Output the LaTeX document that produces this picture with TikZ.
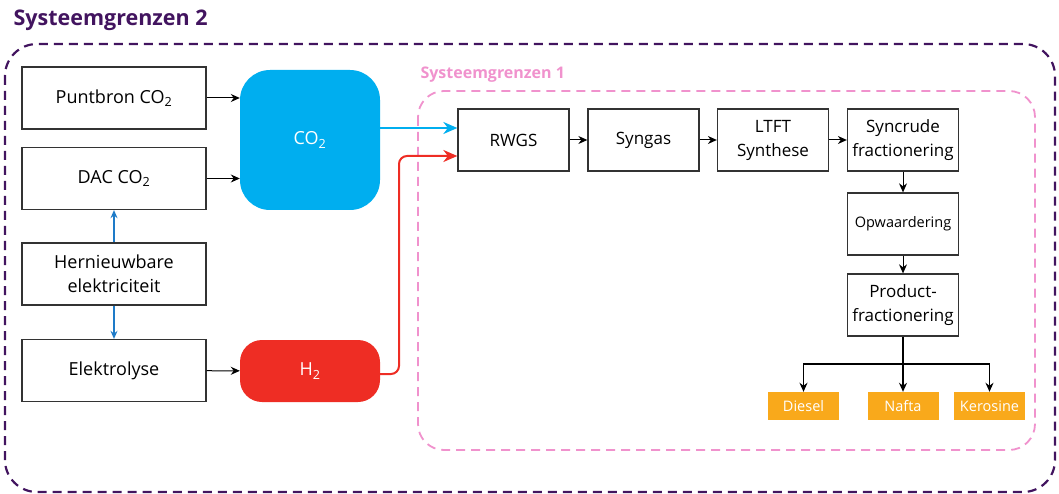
\documentclass[tikz,border=0pt]{standalone}
\usepackage{fontspec}
\setmainfont{Open Sans}
\usetikzlibrary{arrows.meta}
\definecolor{sgpurple}{HTML}{42145F}
\definecolor{sgpink}{HTML}{F092CD}
\definecolor{co2blue}{HTML}{00AEEF}
\definecolor{h2red}{HTML}{EE2D24}
\definecolor{prodorange}{HTML}{F9A91B}
\definecolor{elecblue}{HTML}{1E7BC8}
\definecolor{boxline}{HTML}{333333}
\tikzset{
  x=1pt, y=-1pt,
  procbox/.style={draw=boxline, line width=1.3pt, fill=white, minimum width=184pt, minimum height=62pt,
    inner sep=0pt, align=center, font=\fontsize{18}{24}\selectfont},
  stagebox/.style={procbox, minimum width=111pt, font=\fontsize{17}{24}\selectfont},
  carrier/.style={inner sep=0pt, text=white, font=\fontsize{18}{22}\selectfont, minimum width=140pt},
  product/.style={fill=prodorange, text=white, inner sep=0pt, minimum width=71pt, minimum height=28pt,
    font=\fontsize{14.5}{17}\selectfont},
  flow/.style={line width=1pt, -{Stealth[length=9pt,width=8pt]}},
  elflow/.style={draw=elecblue, line width=1.2pt, -{Stealth[length=8pt,width=7pt]}},
  feed/.style={line width=2pt, -{Stealth[length=14pt,width=12pt]}},
  boundary/.style={dashed, line width=2.2pt},
}
\begin{document}
\begin{tikzpicture}
\useasboundingbox (0,0) rectangle (1059,494);

% system boundaries
\draw[boundary, draw=sgpurple, rounded corners=32pt, dash pattern=on 9pt off 6pt] (5,44) rectangle (1055,492);
\node[anchor=west, text=sgpurple, font=\fontsize{21.5}{26}\selectfont\bfseries] (sg2) at (10,20) {Systeemgrenzen 2};
\draw[boundary, draw=sgpink, line width=1.8pt, rounded corners=26pt, dash pattern=on 9pt off 6pt] (418,91) rectangle (1035,450);
\node[anchor=west, text=sgpink, font=\fontsize{16}{19}\selectfont\bfseries] (sg1) at (417,75) {Systeemgrenzen 1};

% sources
\node[procbox] (punt) at (114,98) {Puntbron CO\textsubscript{2}};
\node[procbox] (dac) at (114,178.5) {DAC CO\textsubscript{2}};
\node[procbox] (hern) at (114,274) {Hernieuwbare\\elektriciteit};
\node[procbox] (elek) at (114,370.5) {Elektrolyse};

% carriers
\node[carrier, fill=co2blue, minimum height=140pt, rounded corners=30pt] (co2) at (310,140) {CO\textsubscript{2}};
\node[carrier, fill=h2red, minimum height=62pt, rounded corners=22pt] (h2) at (310,371) {H\textsubscript{2}};

% process chain
\node[stagebox] (rwgs) at (513.5,140) {RWGS};
\node[stagebox] (syngas) at (643.5,140) {Syngas};
\node[stagebox] (ltft) at (773,140) {LTFT\\Synthese};
\node[stagebox] (sync) at (903,140) {Syncrude\\fractionering};
\node[stagebox, font=\fontsize{14.5}{17}\selectfont] (opw) at (903,224) {Opwaardering};
\node[stagebox] (prod) at (903,305) {Product-\\fractionering};

% products
\node[product] (diesel) at (803.5,406) {Diesel};
\node[product] (nafta) at (903,406) {Nafta};
\node[product] (kero) at (989.5,406) {Kerosine};

% connectors
\draw[flow] (punt) -- (co2.west |- punt);
\draw[flow] (dac) -- (co2.west |- dac);
\draw[flow] (elek) -- (h2);
\draw[elflow] (hern) -- (dac);
\draw[elflow] (hern) -- (elek);

\draw[feed, draw=co2blue] ([yshift=12pt]co2.east) -- ([yshift=12pt]rwgs.west);
\coordinate (hbend) at (399,260);
\draw[feed, draw=h2red, rounded corners=8pt] ([yshift=-3pt]h2.east) -| (hbend) |- ([yshift=-16pt]rwgs.west);

\draw[flow] (rwgs) -- (syngas);
\draw[flow] (syngas) -- (ltft);
\draw[flow] (ltft) -- (sync);
\draw[flow] (sync) -- (opw);
\draw[flow] (opw) -- (prod);

\coordinate (split) at (903,364);
\draw[line width=1.5pt] (prod) -- (split);
\draw[flow, line width=1.5pt] (split) -| (diesel.north);
\draw[flow, line width=1.5pt] (split) -- (nafta.north);
\draw[flow, line width=1.5pt] (split) -| (kero.north);
\end{tikzpicture}
\end{document}
